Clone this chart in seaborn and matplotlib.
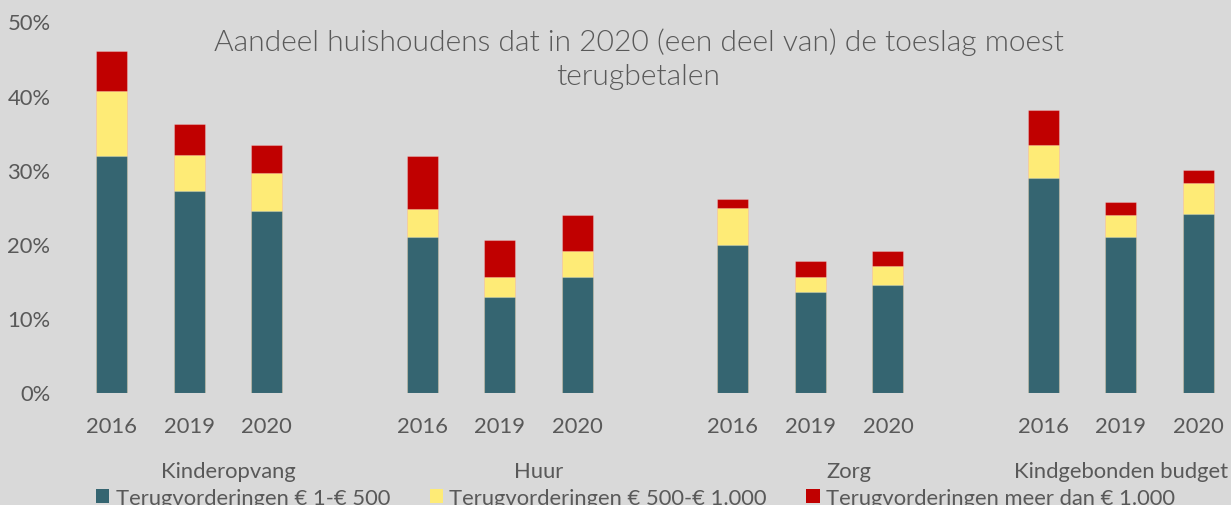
import matplotlib
matplotlib.use("Agg")
import matplotlib.pyplot as plt
import matplotlib.patches as mpatches
from matplotlib.transforms import blended_transform_factory
import seaborn as sns
import pandas as pd
import numpy as np

# ---- data (percentages) ----
groups = ["Kinderopvang", "Huur", "Zorg", "Kindgebonden budget"]
years = ["2016", "2019", "2020"]
series_names = ["Terugvorderingen € 1-€ 500",
                "Terugvorderingen € 500-€ 1.000",
                "Terugvorderingen meer dan € 1.000"]
low = [31.9, 27.2, 24.5,  20.9, 12.8, 15.5,  19.85, 13.5, 14.5,  28.9, 21.0, 24.1]
mid = [8.7, 4.8, 5.1,     3.8, 2.8, 3.5,     5.05, 2.1, 2.5,     4.5, 2.9, 4.1]
high = [5.4, 4.1, 3.8,    7.2, 4.9, 4.9,     1.1, 2.05, 2.0,     4.6, 1.7, 1.8]
title = "Aandeel huishoudens dat in 2020 (een deel van) de toeslag moest\nterugbetalen"

colors = ["#356571", "#FEEB76", "#C00000"]
bg = "#D9D9D9"
txt = "#595959"
FONT = ["Lato", "DejaVu Sans"]

sns.set_theme(style="white")
plt.rcParams["font.family"] = FONT

rows = []
for gi, g in enumerate(groups):
    for yi, y in enumerate(years):
        k = gi * 3 + yi
        rows.append(dict(group=g, year=y, slot=gi * (len(years) + 1) + yi,
                         low=low[k], mid=mid[k], high=high[k]))
df = pd.DataFrame(rows)
df["c1"] = df["low"]
df["c2"] = df["low"] + df["mid"]
df["c3"] = df["c2"] + df["high"]

W, H = 1231, 506
fig = plt.figure(figsize=(W / 100, H / 100), dpi=100, facecolor=bg)
ax = fig.add_axes([72.7 / W, (H - 393.5) / H, 1164.6 / W, 371.2 / H])
ax.set_facecolor(bg)

for col, c in zip(["c3", "c2", "c1"], colors[::-1]):
    sns.barplot(data=df, x="slot", y=col, native_scale=True, color=c,
                saturation=1, width=0.4, errorbar=None, ax=ax,
                edgecolor=(1, 1, 1, 0.25), linewidth=0.8)

ax.set_xlim(-0.5, 14.5)
ax.set_ylim(0, 50)
ax.set_yticks(np.arange(0, 51, 10))
ax.set_yticklabels([f"{int(v)}%" for v in np.arange(0, 51, 10)])
ax.set_xticks(df["slot"])
ax.set_xticklabels(df["year"])
ax.set_xlabel("")
ax.set_ylabel("")
for s in ax.spines.values():
    s.set_visible(False)
ax.tick_params(axis="x", length=0, pad=17, labelsize=15.8, labelcolor=txt)
ax.tick_params(axis="y", length=0, pad=16, labelsize=15.8, labelcolor=txt)
ax.grid(False)

# group labels
tr = blended_transform_factory(ax.transData, fig.transFigure)
xmin, xmax = ax.get_xlim()
for gi, g in enumerate(groups):
    left = gi * (len(years) + 1) - 0.5
    right = min(left + len(years) + 1, xmax)
    ax.text((left + right) / 2, (H - 478) / H, g, transform=tr, ha="center",
            va="baseline", fontsize=15.8, color=txt)

# title
fig.text(638.5 / W, (H - 85) / H, title, ha="center", va="baseline",
         multialignment="center", fontsize=21.6, color=txt,
         fontweight=300, linespacing=1.37)

handles = [mpatches.Patch(facecolor=c, edgecolor="none") for c in colors]
fig.legend(handles, series_names, loc="center left",
           bbox_to_anchor=(96 / W, (H - 499) / H), ncol=3, frameon=False,
           fontsize=15.8, labelcolor=txt, handlelength=0.6, handleheight=0.6,
           handletextpad=0.3, columnspacing=1.8, borderpad=0, borderaxespad=0)

fig.savefig("out.png", dpi=100, facecolor=bg)
